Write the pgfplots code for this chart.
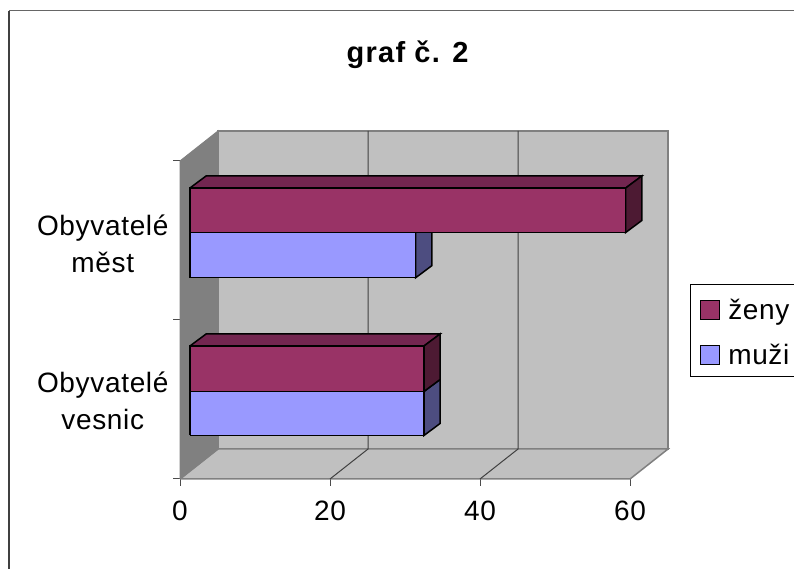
\documentclass[border=0pt]{standalone}
\usepackage{pgfplots}
\pgfplotsset{compat=1.18}
\usepackage{fontspec}
\setmainfont{Liberation Sans}
\definecolor{zeny}{HTML}{993366}
\definecolor{zenytop}{HTML}{732650}
\definecolor{zenyside}{HTML}{4D1A33}
\definecolor{muzi}{HTML}{9999FF}
\definecolor{muziside}{HTML}{4D4D80}
\definecolor{wall}{HTML}{C0C0C0}
\definecolor{sidewall}{HTML}{808080}
\begin{document}
\begin{tikzpicture}[x=1pt,y=1pt]
\useasboundingbox (0,0) rectangle (794,569);
\begin{axis}[
  at={(180pt,90pt)}, anchor=south west,
  scale only axis,
  width=450pt, height=318pt,
  xmin=0, xmax=60,
  ymin=0, ymax=318,   % y counted in pixels from the floor, categories are at 79.5 and 238.5
  clip=false,
  axis lines=left,
  axis line style={-, draw=black!60, line width=1pt},
  tick align=outside,
  major tick length=7pt,
  tick style={black!70, line width=1pt},
  xtick={0,20,40,60},
  ytick={0,159,318},
  yticklabels={,,},
  extra y ticks={78,235},
  extra y tick labels={{Obyvatelé\\vesnic},{Obyvatelé\\měst}},
  extra y tick style={major tick length=0pt, yticklabel style={align=center, xshift=-8pt}},
  tick label style={font=\fontsize{28}{37}\selectfont\addfontfeature{LetterSpace=2.4}, /pgf/number format/assume math mode=true},
  xticklabel style={yshift=-11pt},
  title={\textbf{graf č. 2}},
  title style={at={(0.507,1.315)}, anchor=center, font=\fontsize{29}{34}\selectfont\addfontfeature{LetterSpace=4.3}},
  legend style={at={(axis cs:68,195)}, anchor=north west, draw=black, line width=1pt,
    font=\fontsize{28}{34}\selectfont\addfontfeature{LetterSpace=2.4}, inner xsep=9pt, inner ysep=11pt,
    row sep=20pt},
  legend cell align=left,
  legend image code/.code={
    \path[draw=none, fill=none] (0pt,0pt) -- (26pt,0pt);
    \draw[#1, line width=1.5pt] (0pt,-14pt) rectangle (19pt,5pt);
  },
  wall/.style={fill=wall, draw=sidewall, line width=1.5pt, line join=miter, forget plot},
  face/.style={draw=black, line width=1.5pt, line join=miter, forget plot},
]
\addlegendimage{fill=zeny, draw=black}
\addlegendentry{\raisebox{-7pt}[15pt][5pt]{ženy}}
\addlegendimage{fill=muzi, draw=black}
\addlegendentry{\raisebox{-7pt}[15pt][5pt]{muži}}

% chart frame
\addplot[draw=black!75, line width=2pt, forget plot] coordinates {(-22.8,-90) (-22.8,468)};
\addplot[draw=black!60, line width=1pt, forget plot] coordinates {(-22.8,468) (81.87,468)};

% back wall, floor and side wall
\addplot[wall] coordinates {(5.07,30) (65.07,30) (65.07,348) (5.07,348) (5.07,30)};
\addplot[wall] coordinates {(0,0) (60,0) (65.07,30) (5.07,30) (0,0)};
\addplot[fill=sidewall, draw=sidewall, line width=1pt, forget plot] coordinates {(0,0) (0,318) (5.07,348) (5.07,30) (0,0)};

% gridlines on wall and floor
\addplot[draw=black!75, line width=1pt, forget plot] coordinates {(20,0) (25.07,30) (25.07,348)};
\addplot[draw=black!75, line width=1pt, forget plot] coordinates {(40,0) (45.07,30) (45.07,348)};

% Obyvatele vesnic: muzi
\addplot[face, fill=muziside] coordinates {(32.53,87.5) (32.53,43.5) (34.67,55.5) (34.67,99.5) (32.53,87.5)};
\addplot[face, fill=muzi] coordinates {(1.33,43.5) (32.53,43.5) (32.53,87.5) (1.33,87.5) (1.33,43.5)};
% Obyvatele vesnic: zeny
\addplot[face, fill=zenytop] coordinates {(1.33,133) (32.53,133) (34.67,145) (3.47,145) (1.33,133)};
\addplot[face, fill=zenyside] coordinates {(32.53,133) (32.53,87.5) (34.67,99.5) (34.67,145) (32.53,133)};
\addplot[face, fill=zeny] coordinates {(1.33,87.5) (32.53,87.5) (32.53,133) (1.33,133) (1.33,87.5)};

% Obyvatele mest: muzi
\addplot[face, fill=muziside] coordinates {(31.43,246.5) (31.43,201.3) (33.57,213.3) (33.57,258.5) (31.43,246.5)};
\addplot[face, fill=muzi] coordinates {(1.33,201.3) (31.43,201.3) (31.43,246.5) (1.33,246.5) (1.33,201.3)};
% Obyvatele mest: zeny
\addplot[face, fill=zenytop] coordinates {(1.33,291) (59.43,291) (61.57,303) (3.47,303) (1.33,291)};
\addplot[face, fill=zenyside] coordinates {(59.43,291) (59.43,246.5) (61.57,258.5) (61.57,303) (59.43,291)};
\addplot[face, fill=zeny] coordinates {(1.33,246.5) (59.43,246.5) (59.43,291) (1.33,291) (1.33,246.5)};
\end{axis}
\end{tikzpicture}
\end{document}
